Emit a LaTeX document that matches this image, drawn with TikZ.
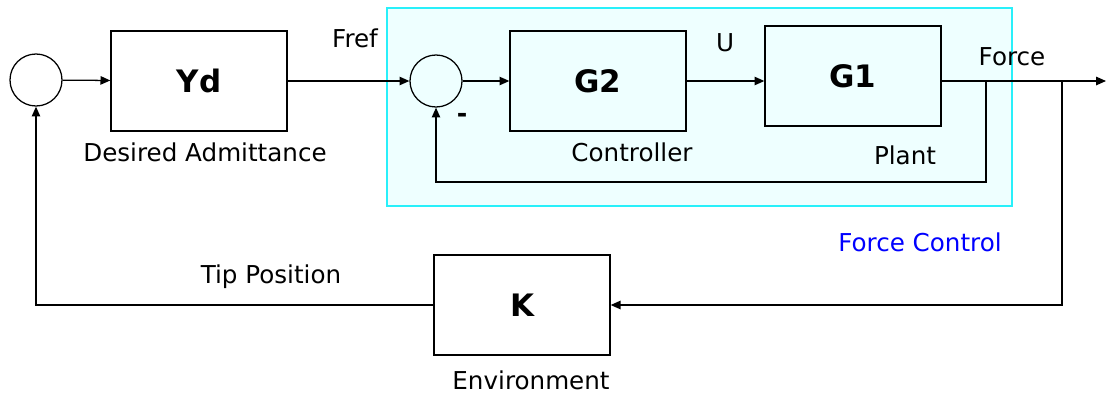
\documentclass[tikz,border=0pt]{standalone}
\usepackage{fontspec}
\setmainfont{DejaVu Sans}
\usetikzlibrary{arrows.meta, calc, positioning}
\definecolor{fcfill}{RGB}{238,255,255}
\definecolor{fcedge}{RGB}{40,240,250}

\begin{document}
\begin{tikzpicture}[
  x=0.025cm, y=-0.025cm, line width=0.9pt,
  box/.style={draw, minimum width=4.4cm, minimum height=2.5cm,
               font=\fontsize{22}{24}\selectfont\bfseries},
  sum/.style={draw, circle, minimum size=1.3cm, inner sep=0pt},
  lbl/.style={font=\fontsize{17.5}{19}\selectfont},
  arr/.style={-{Triangle[length=7pt,width=6pt]}}
]
  \useasboundingbox (0,0) rectangle (1108,395);
  \draw[fcedge, fill=fcfill, line width=1pt] (387,8) rectangle (1012,206);

  \node[sum] (s1) at (36,80) {};
  \node[box] (yd) at (199,81) {Yd};
  \node[sum] (s2) at (436,81) {};
  \node[box] (g2) at (598,81) {G2};
  \node[box] (g1) at (853,76) {G1};
  \node[box] (k)  at (522,305) {K};
  \coordinate (tap) at (986,81);
  \coordinate (br)  at (1062,81);
  \coordinate (out) at (1106,81);

  \draw[arr] (s1) -- (yd);
  \draw[arr] (yd) -- (s2);
  \draw[arr] (s2) -- (g2);
  \draw[arr] (g2) -- (g2 -| g1.west);
  \draw[arr] (g1.east |- out) -- (out);
  \draw[arr] (tap) -- ++(0,101) -| (s2.south);
  \draw[arr] (br) |- (k.east);
  \draw[arr] (k.west) -| (s1.south);

  \node[lbl] (fref) at (355,38)  {Fref};
  \node[lbl] (u)    at (725,43)  {U};
  \node[lbl] (frc)  at (1012,57) {Force};
  \node[font=\fontsize{18}{20}\selectfont\bfseries] (neg) at (462,118) {-};
  \node[lbl] (yd-l) at (205,152) {Desired Admittance};
  \node[lbl] (g2-l) at (632,152) {Controller};
  \node[lbl] (g1-l) at (905,155) {Plant};
  \node[lbl] (pos)  at (271,277) {Tip Position};
  \node[lbl] (k-l)  at (531,380) {Environment};
  \node[lbl, text=blue] (fc) at (920,242) {Force Control};
\end{tikzpicture}
\end{document}
